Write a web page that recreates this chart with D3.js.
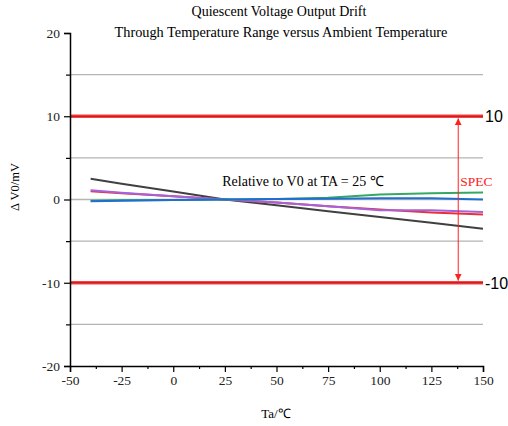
<!DOCTYPE html>
<html><head><meta charset="utf-8">
<script src="https://cdn.jsdelivr.net/npm/d3@7"></script>
<style>body{margin:0;background:#fff}svg{display:block}</style>
</head><body>
<svg id="c" width="508" height="426"></svg>
<script>
const temps = [-40, -25, 0, 25, 50, 75, 100, 125, 150];
const black  = [2.5, 1.9, 0.95, 0, -0.7, -1.4, -2.1, -2.8, -3.5];
const red    = [1.0, 0.75, 0.4, 0, -0.35, -0.8, -1.2, -1.55, -1.8];
const purple = [1.1, 0.8, 0.4, 0, -0.35, -0.8, -1.3, -1.3, -1.5];
const green  = [-0.15, -0.1, -0.05, 0, 0.05, 0.2, 0.6, 0.75, 0.85];
const blue   = [-0.2, -0.15, -0.05, 0, 0.05, 0.1, 0.15, 0.15, 0.0];
const seriesNames = ["black", "red", "purple", "green", "blue"];
const seriesColors = ["#404040", "#e8303a", "#a463dc", "#35a862", "#1f6fd0"];
const xTicks = [-50, -25, 0, 25, 50, 75, 100, 125, 150];
const yTicks = [-20, -10, 0, 10, 20];
const yMinor = [-15, -5, 5, 15];
const gridVals = [-15, -5, 0, 5, 15];
const specVals = [10, -10];
const specArrowT = 138;

const svg = d3.select("#c");
const x = d3.scaleLinear().domain([-50, 150]).range([70, 483]);
const y = d3.scaleLinear().domain([-20, 20]).range([366, 33]);
const serif = "'Liberation Serif','Times New Roman',serif";
const fmt = d => String(d);

// gridlines
svg.append("g").selectAll("line").data(gridVals).join("line")
  .attr("x1", x(-50)).attr("x2", x(150)).attr("y1", d => y(d)).attr("y2", d => y(d))
  .attr("stroke", "#b4b4b4").attr("stroke-width", 1.3);

// spec lines
const sg = svg.append("g");
sg.selectAll("line.s").data(specVals).join("line").attr("class", "s")
  .attr("x1", x(-50)).attr("x2", x(150)).attr("y1", d => y(d)).attr("y2", d => y(d))
  .attr("stroke", "#ff4040").attr("stroke-width", 3.5);
sg.selectAll("line.c").data(specVals).join("line").attr("class", "c")
  .attr("x1", x(-50)).attr("x2", x(150)).attr("y1", d => y(d)).attr("y2", d => y(d))
  .attr("stroke", "#b01818").attr("stroke-width", 1);
sg.selectAll("text").data(specVals).join("text")
  .attr("x", x(150) + 2).attr("y", d => y(d) + 6)
  .attr("font-family", "'Liberation Sans',Arial,sans-serif").attr("font-size", 16)
  .attr("fill", "#000").text(fmt);

// series
const line = d3.line().x((d, i) => x(temps[i])).y(d => y(d));
const allSeries = [black, red, purple, green, blue];
svg.append("g").selectAll("path").data(allSeries).join("path")
  .attr("d", d => line(d)).attr("fill", "none")
  .attr("stroke", (d, i) => seriesColors[i]).attr("stroke-width", 2);

// arrow
const defs = svg.append("defs");
defs.append("marker").attr("id", "ah").attr("viewBox", "0 0 10 10")
  .attr("refX", 10).attr("refY", 5).attr("markerWidth", 7).attr("markerHeight", 9)
  .attr("markerUnits", "userSpaceOnUse").attr("orient", "auto-start-reverse")
  .append("path").attr("d", "M0,0L10,5L0,10Z").attr("fill", "#ff2020");
svg.append("line").attr("x1", x(specArrowT)).attr("x2", x(specArrowT))
  .attr("y1", y(9.75)).attr("y2", y(-9.75))
  .attr("stroke", "#ff2020").attr("stroke-width", 1)
  .attr("marker-start", "url(#ah)").attr("marker-end", "url(#ah)");
svg.append("text").attr("x", x(specArrowT) + 2).attr("y", y(1.6))
  .attr("font-family", serif).attr("font-size", 13.5).attr("fill", "#ff2020").text("SPEC");

// axes
svg.append("g").attr("transform", `translate(${x(-50)},0)`)
  .call(d3.axisLeft(y).tickValues(yTicks).tickSize(6).tickPadding(4).tickFormat(fmt));
svg.append("g").attr("transform", `translate(${x(-50)},0)`)
  .call(d3.axisLeft(y).tickValues(yMinor).tickSize(4).tickFormat(""))
  .call(g => g.select(".domain").remove());
svg.append("g").attr("transform", `translate(0,${y(-20)})`)
  .call(d3.axisBottom(x).tickValues(xTicks).tickSize(6).tickPadding(3).tickFormat(fmt));
const xMinor = xTicks.slice(0, -1).map(v => v + 12.5);
svg.append("g").attr("transform", `translate(0,${y(-20)})`)
  .call(d3.axisBottom(x).tickValues(xMinor).tickSize(3).tickFormat(""))
  .call(g => g.select(".domain").remove());
svg.selectAll(".domain").attr("stroke-width", 1.5);
svg.selectAll(".tick line").attr("stroke-width", 1.2);
svg.selectAll(".tick text").attr("font-family", serif).attr("font-size", 13.5).attr("fill", "#222");

// titles
svg.append("text").attr("x", 279).attr("y", 16).attr("text-anchor", "middle")
  .attr("font-family", serif).attr("font-size", 14).text("Quiescent Voltage Output Drift");
svg.append("text").attr("x", 281).attr("y", 37).attr("text-anchor", "middle")
  .attr("font-family", serif).attr("font-size", 14.3).text("Through Temperature Range versus Ambient Temperature");
svg.append("text").attr("x", 303).attr("y", 186).attr("text-anchor", "middle")
  .attr("font-family", serif).attr("font-size", 14).text("Relative to V0 at TA = 25 ℃");
svg.append("text").attr("x", 276).attr("y", 418).attr("text-anchor", "middle")
  .attr("font-family", serif).attr("font-size", 13).text("Ta/℃");
svg.append("text").attr("transform", "translate(19,187) rotate(-90)").attr("text-anchor", "middle")
  .attr("font-family", serif).attr("font-size", 12.5).text("Δ V0/mV");
</script>
</body></html>
